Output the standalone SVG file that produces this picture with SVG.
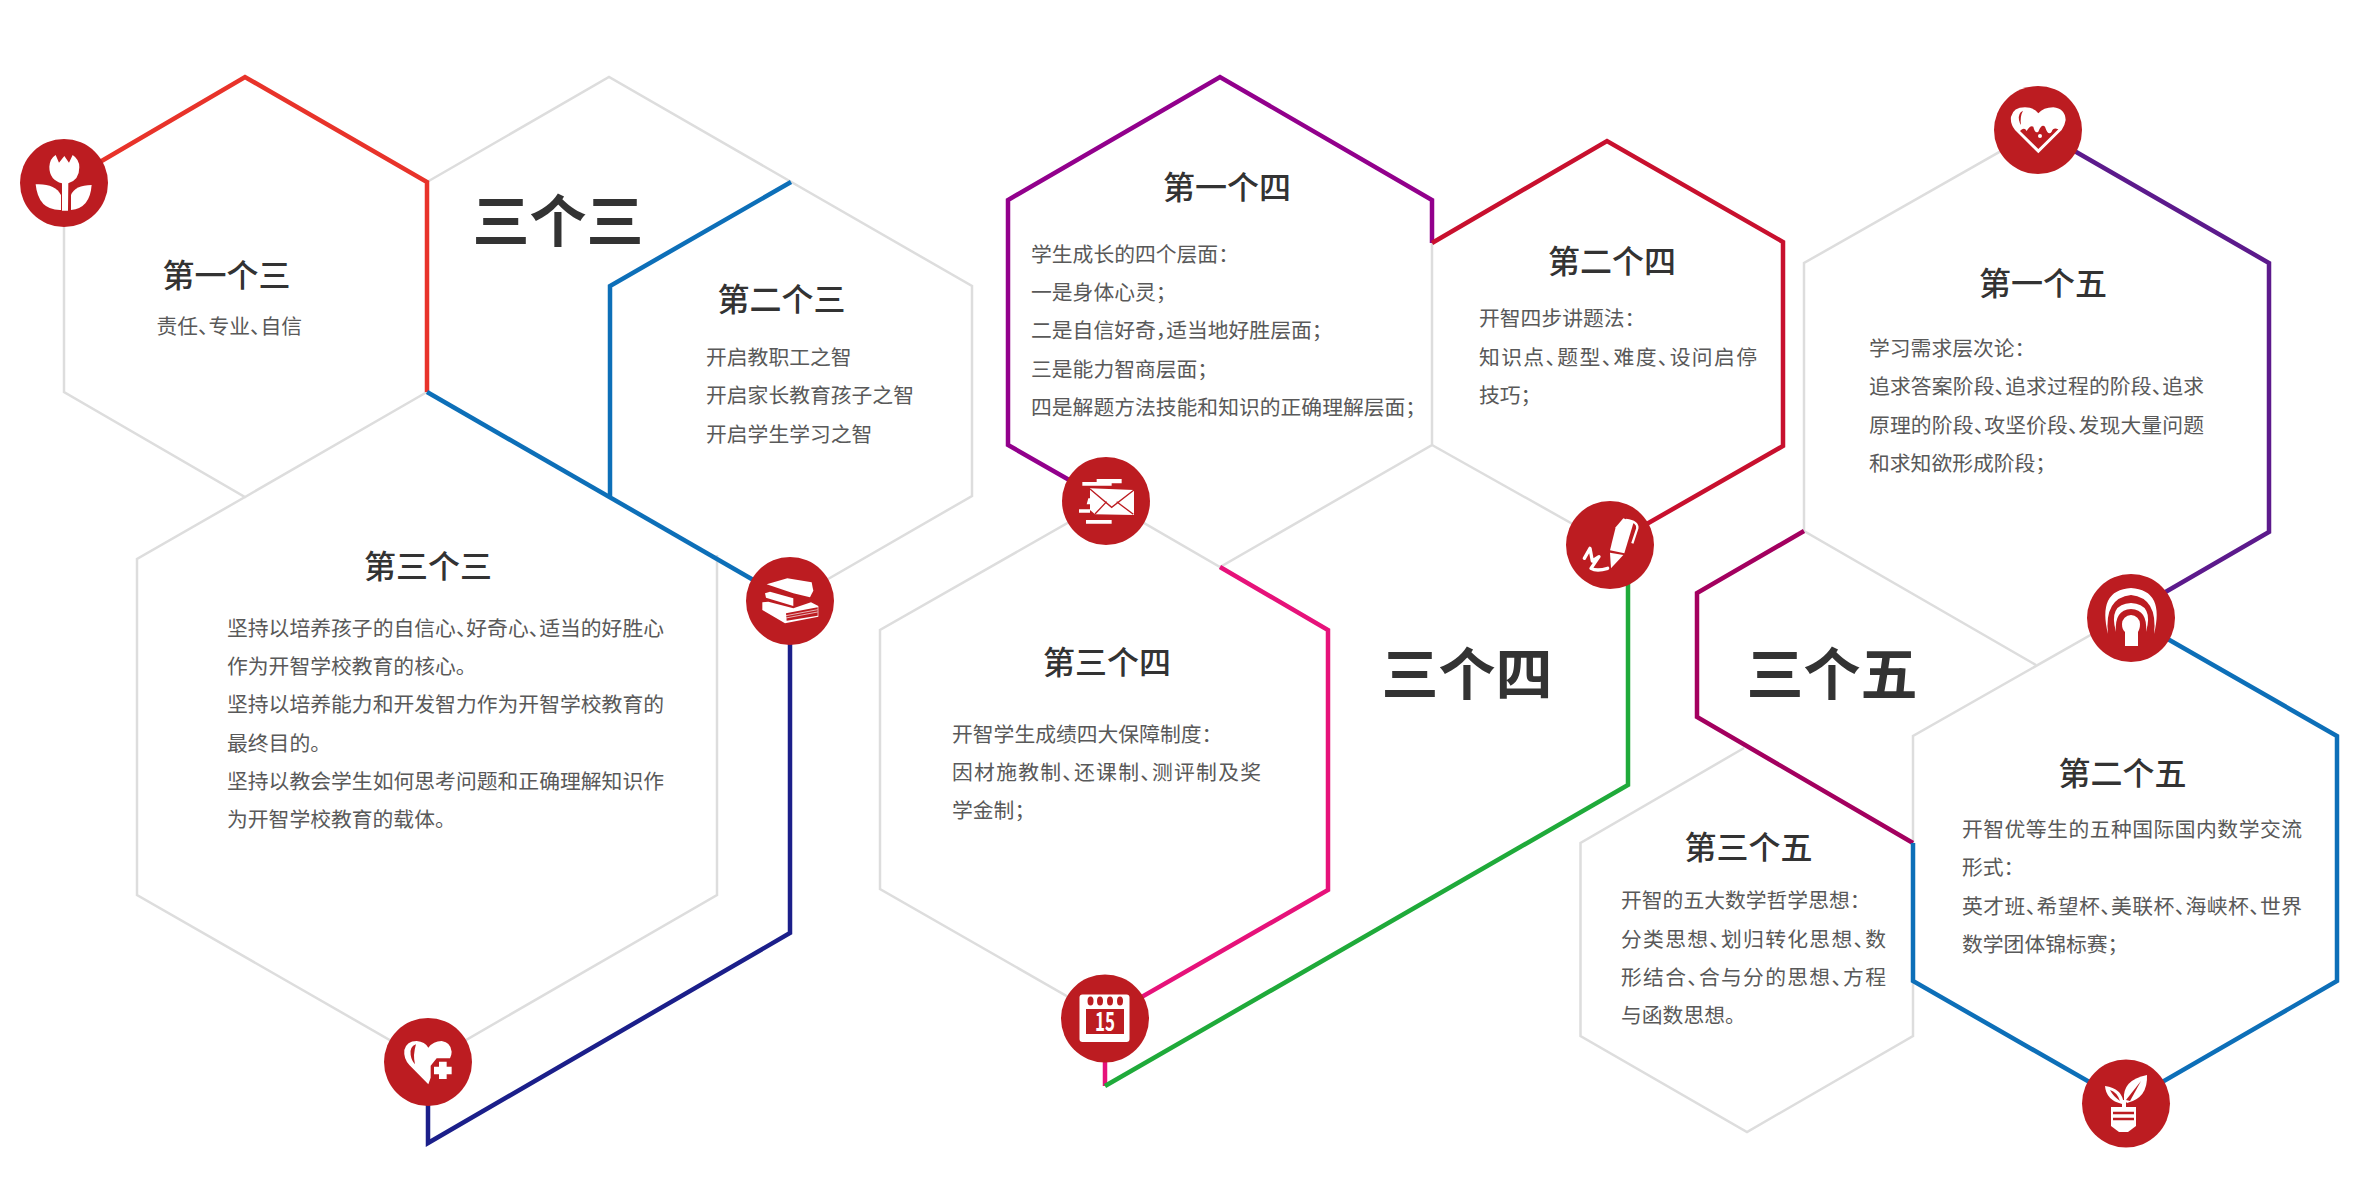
<svg xmlns="http://www.w3.org/2000/svg" width="2363" height="1182" viewBox="0 0 2363 1182">
<style>
text{font-family:"Noto Sans CJK SC","Liberation Sans",sans-serif;font-feature-settings:"halt"}
.t{font-size:32px;font-weight:500;fill:#333;text-anchor:middle}
.b{font-size:20.800px;fill:#595959}
.big{font-size:57px;font-weight:700;fill:#333;text-anchor:middle}
.g,.c{fill:none;stroke-linejoin:miter}
.g{stroke:#ddd;stroke-width:2.5}
.c{stroke-width:4.5}
.dot{fill:#bc1c21}
.w{fill:#fff}
.r{fill:#bc1c21}
.ws{fill:none;stroke:#fff}
.rs{fill:none;stroke:#bc1c21}
</style>
<rect width="2363" height="1182" fill="#fff"/>
<g id="connectors">
<polyline class="g" points="64,183 64,392 245,497 427,392"/>
<polyline class="g" points="427,182 609,77 972,286 972,496 790,601"/>
<polyline class="g" points="245,497 137,559 137,895 428,1062 717,895 717,555"/>
<polyline class="g" points="1432,243 1432,445 1220,567 1106,501 880,630 880,889 1105,1018"/>
<polyline class="g" points="1432,445 1610,545"/>
<polyline class="g" points="2038,130 1804,263 1804,531 2036,665"/>
<polyline class="g" points="1913,843 1913,736 2131,612"/>
<polyline class="g" points="1744,748 1580.5,843 1580.5,1036 1747,1132 1913,1036 1913,981"/>
<polyline class="c" stroke="#e8332a" points="64,183 245,77 427,182 427,392"/>
<polyline class="c" stroke="#0d6fb8" points="427,392 790,601"/>
<polyline class="c" stroke="#0d6fb8" points="791,182 610,286 610,496"/>
<polyline class="c" stroke="#1b1f8a" points="790,601 790,933 428,1143 428,1062"/>
<polyline class="c" stroke="#92008c" points="1106,501 1008,445 1008,200 1220,77 1432,200 1432,243"/>
<polyline class="c" stroke="#c8102e" points="1432,243 1607,141 1783,242 1783,446 1610,545"/>
<polyline class="c" stroke="#e6127a" points="1220,567 1328,630 1328,890 1105,1018 1105,1086"/>
<polyline class="c" stroke="#1faa3a" points="1105,1086 1628,785 1628,560"/>
<polyline class="c" stroke="#5c1a8c" points="2038,130 2269,263 2269,532 2131,612"/>
<polyline class="c" stroke="#a3005f" points="1804,531 1697,593 1697,717 1913,843"/>
<polyline class="c" stroke="#0d6fb8" points="1913,843 1913,981 2126,1103 2337,981 2337,736 2131,618"/>
</g>
<g id="node-big-3"><text class="big" x="558" y="242">三个三</text></g>
<g id="node-big-4"><text class="big" x="1467" y="695">三个四</text></g>
<g id="node-big-5"><text class="big" x="1832" y="695">三个五</text></g>

<g id="node-3-1">
<circle class="dot" cx="64" cy="183" r="44"/>
<g transform="translate(0 120) scale(.3333)">
<path class="w" d="M148 140Q150 115 167 105L177 128L193 108L207 128L218 105Q238 118 238 142Q238 180 205 190L204 272L186 272L186 190Q148 180 148 140Z"/>
<path class="w" d="M107 193Q165 190 183 225L183 270Q115 272 107 193Z"/>
<path class="w" d="M275 195Q225 195 213 225L213 270Q270 265 275 195Z"/>
</g>
<text class="t" x="226.500" y="286.500">第一个三</text>
<text class="b" x="156.500" y="333.500">责任、专业、自信</text>
</g>

<g id="node-3-2">
<circle class="dot" cx="790" cy="601" r="44"/>
<g transform="translate(730 570) scale(.3333)">
<path class="w" d="M110 43L172 25L245 37L250 62L240 82L190 70Z"/>
<path class="w" d="M105 70L120 65L190 85L190 108L108 83Z"/>
<path class="w" d="M97 97L115 95L190 115L243 97L265 108L265 140L165 160L97 120Z"/>
<path class="r" d="M168 130L263 112L263 137L170 152Z"/>
<path class="ws" stroke-width="2" d="M168 137L263 119M168 144L263 126"/>
</g>
<text class="t" x="781.500" y="310.500">第二个三</text>
<text class="b" x="706" y="364.500">开启教职工之智</text>
<text class="b" x="706" y="403">开启家长教育孩子之智</text>
<text class="b" x="706" y="441.500">开启学生学习之智</text>
</g>

<g id="node-3-3">
<circle class="dot" cx="428" cy="1062" r="44"/>
<g transform="translate(370 1005) scale(.3333)">
<path class="w" d="M175 238L118 180Q100 160 103 135Q110 108 140 108Q165 110 175 128Q190 108 215 108Q243 112 245 140Q245 150 240 160L200 160L182 182L182 218Z"/>
<path class="r" d="M138 118Q118 125 122 150Q125 168 135 178Q128 150 138 118Z"/>
<path class="w" d="M207 170H230V185H245V208H230V222H207V208H192V185H207Z"/>
</g>
<text class="t" x="428" y="578">第三个三</text>
<text class="b" x="227" y="635.500" textLength="437">坚持以培养孩子的自信心、好奇心、适当的好胜心</text>
<text class="b" x="227" y="673.500">作为开智学校教育的核心。</text>
<text class="b" x="227" y="712" textLength="437">坚持以培养能力和开发智力作为开智学校教育的</text>
<text class="b" x="227" y="750.500">最终目的。</text>
<text class="b" x="227" y="788.500" textLength="437">坚持以教会学生如何思考问题和正确理解知识作</text>
<text class="b" x="227" y="827">为开智学校教育的载体。</text>
</g>

<g id="node-4-1">
<circle class="dot" cx="1106" cy="501" r="44"/>
<g transform="translate(1045 445) scale(.3333)">
<path class="w" d="M112 111H155V102H230V115H200V122H112Z"/>
<path class="w" d="M135 130L267 135V210L150 208L135 195V178H125L130 160H135Z"/>
<path class="w" d="M102 193H135V203H102ZM123 225H200V236H123Z"/>
<path class="rs" stroke-width="4" d="M135 132L200 187L267 135M150 207L185 170M265 208L215 170"/>
</g>
<text class="t" x="1227" y="199">第一个四</text>
<text class="b" x="1031" y="261.500">学生成长的四个层面：</text>
<text class="b" x="1031" y="300">一是身体心灵；</text>
<text class="b" x="1031" y="338">二是自信好奇，适当地好胜层面；</text>
<text class="b" x="1031" y="376.500">三是能力智商层面；</text>
<text class="b" x="1031" y="414.500">四是解题方法技能和知识的正确理解层面；</text>
</g>

<g id="node-4-2">
<circle class="dot" cx="1610" cy="545" r="44"/>
<g transform="translate(1555 490) scale(.3333)">
<path class="w" d="M182 112L205 85L236 97L208 190L165 181Z"/>
<path class="w" d="M165 188L205 195L168 235Z"/>
<path class="ws" stroke-width="7" d="M213 90Q250 95 247 115L232 160"/>
<path class="ws" stroke-width="10" stroke-linecap="round" stroke-linejoin="round" d="M88 205L105 175L112 213L132 200L108 235Q125 245 158 235"/>
</g>
<text class="t" x="1612" y="272.500">第二个四</text>
<text class="b" x="1479" y="326">开智四步讲题法：</text>
<text class="b" x="1479" y="364.500" textLength="278">知识点、题型、难度、设问启停</text>
<text class="b" x="1479" y="402.500">技巧；</text>
</g>

<g id="node-4-3">
<circle class="dot" cx="1105" cy="1018.500" r="44"/>
<rect class="w" x="1079.500" y="994.500" width="50" height="47.500" rx="3"/>
<rect class="r" x="1086" y="1009" width="38" height="25"/>
<ellipse class="r" cx="1090.500" cy="1001" rx="3" ry="4.500"/>
<ellipse class="r" cx="1100" cy="1001" rx="3" ry="4.500"/>
<ellipse class="r" cx="1110" cy="1001" rx="3" ry="4.500"/>
<ellipse class="r" cx="1120" cy="1001" rx="3" ry="4.500"/>
<text x="1105" y="1031" font-size="26" font-weight="700" fill="#fff" text-anchor="middle" textLength="20" lengthAdjust="spacingAndGlyphs">15</text>
<text class="t" x="1107" y="674">第三个四</text>
<text class="b" x="952" y="741.500">开智学生成绩四大保障制度：</text>
<text class="b" x="952" y="779.500" textLength="309">因材施教制、还课制、测评制及奖</text>
<text class="b" x="952" y="817.500">学金制；</text>
</g>

<g id="node-5-1">
<circle class="dot" cx="2038" cy="130" r="44"/>
<g transform="translate(1985 70) scale(.3333)">
<path class="w" d="M160 250L90 180Q75 160 78 140Q85 112 120 112Q148 112 160 130Q175 112 205 112Q240 115 242 150Q240 165 230 180Z"/>
<path class="r" d="M160 237L105 183Q118 170 125 183Q135 165 145 170Q150 192 160 185Q170 160 180 170Q190 200 200 185Q205 170 220 178Z"/>
<path class="r" d="M114 122Q98 130 102 150Q104 160 108 165Q104 140 114 122Z"/>
<circle class="w" cx="165" cy="198" r="6"/>
</g>
<text class="t" x="2043" y="294.500">第一个五</text>
<text class="b" x="1869" y="355.500">学习需求层次论：</text>
<text class="b" x="1869" y="394" textLength="335">追求答案阶段、追求过程的阶段、追求</text>
<text class="b" x="1869" y="432.500" textLength="335">原理的阶段、攻坚价段、发现大量问题</text>
<text class="b" x="1869" y="471">和求知欲形成阶段；</text>
</g>

<g id="node-5-2">
<circle class="dot" cx="2126" cy="1103.500" r="44"/>
<path class="w" d="M2124 1100Q2122 1080 2147 1075Q2148 1098 2127 1103Z"/>
<path class="r" d="M2126 1100L2141 1081L2130 1101Z"/>
<path class="w" d="M2122 1104Q2106 1100 2105 1086Q2122 1088 2124 1104Z"/>
<path class="r" d="M2120 1101Q2113 1096 2110 1090Q2117 1092 2120 1101Z"/>
<rect class="w" x="2122" y="1100" width="4" height="8"/>
<path class="w" d="M2111 1107H2136V1126L2128 1132H2119L2111 1126Z"/>
<path class="rs" stroke-width="2.500" d="M2113 1113H2134M2113 1119H2134"/>
<text class="t" x="2122.500" y="784.500">第二个五</text>
<text class="b" x="1962" y="836.500" textLength="340">开智优等生的五种国际国内数学交流</text>
<text class="b" x="1962" y="875">形式：</text>
<text class="b" x="1962" y="913.500" textLength="340">英才班、希望杯、美联杯、海峡杯、世界</text>
<text class="b" x="1962" y="952">数学团体锦标赛；</text>
</g>

<g id="node-5-3">
<circle class="dot" cx="2131" cy="618" r="44"/>
<path class="w" d="M2108 634Q2097 590 2131 588Q2165 590 2154 634Q2158 598 2131 595Q2104 598 2108 634Z"/>
<path class="w" d="M2116 632Q2108 604 2131 603Q2154 604 2146 632Q2148 610 2131 609Q2114 610 2116 632Z"/>
<path class="w" d="M2122 624A9 9 0 0 1 2140 624C2140 628 2139 630 2138 632V646H2125V632C2123 630 2122 628 2122 624Z"/>
<text class="t" x="1748.500" y="858.500">第三个五</text>
<text class="b" x="1621" y="908">开智的五大数学哲学思想：</text>
<text class="b" x="1621" y="946.500" textLength="265">分类思想、划归转化思想、数</text>
<text class="b" x="1621" y="985" textLength="265">形结合、合与分的思想、方程</text>
<text class="b" x="1621" y="1022.500">与函数思想。</text>
</g>
</svg>
